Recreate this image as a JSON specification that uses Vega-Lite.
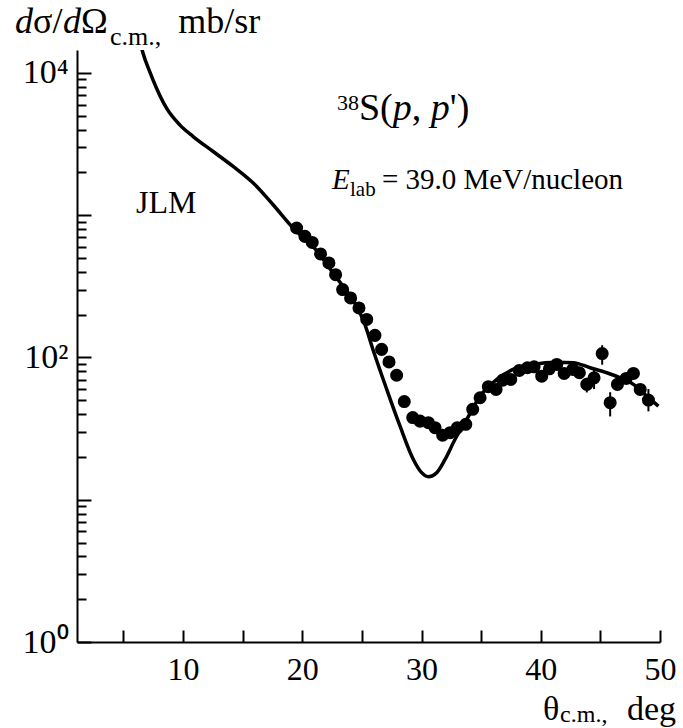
{
  "$schema": "https://vega.github.io/schema/vega-lite/v6.json",
  "width": 583,
  "height": 592,
  "autosize": "none",
  "padding": {"left": 77, "top": 50, "right": 23, "bottom": 86},
  "background": "white",
  "config": {
    "view": {"stroke": null},
    "axis": {
      "grid": false,
      "domainColor": "black",
      "domainWidth": 2,
      "tickColor": "black",
      "tickWidth": 2,
      "labelColor": "black",
      "labelFont": "Liberation Serif",
      "labelFontSize": 34,
      "labelOverlap": false,
      "labelFlush": false
    }
  },
  "datasets": {
    "curve": [
      {"theta": 6.4, "sigma": 16500},
      {"theta": 6.64, "sigma": 13750},
      {"theta": 7.2, "sigma": 10210},
      {"theta": 7.77, "sigma": 7810},
      {"theta": 8.61, "sigma": 5656},
      {"theta": 9.72, "sigma": 4316},
      {"theta": 10.84, "sigma": 3573},
      {"theta": 12.52, "sigma": 2804},
      {"theta": 14.2, "sigma": 2201},
      {"theta": 15.88, "sigma": 1683},
      {"theta": 17.55, "sigma": 1185},
      {"theta": 19.23, "sigma": 813},
      {"theta": 21.0, "sigma": 590},
      {"theta": 22.8, "sigma": 370},
      {"theta": 24.56, "sigma": 229},
      {"theta": 25.2, "sigma": 175},
      {"theta": 25.95, "sigma": 112},
      {"theta": 27.07, "sigma": 60},
      {"theta": 28.19, "sigma": 33},
      {"theta": 29.31, "sigma": 19.2},
      {"theta": 30.01, "sigma": 15.5},
      {"theta": 30.57, "sigma": 14.5},
      {"theta": 31.27, "sigma": 15.5},
      {"theta": 31.97, "sigma": 19.2},
      {"theta": 32.81, "sigma": 26.6},
      {"theta": 33.79, "sigma": 36.7},
      {"theta": 34.91, "sigma": 53.5},
      {"theta": 36.31, "sigma": 70.1},
      {"theta": 37.68, "sigma": 82.4},
      {"theta": 39.35, "sigma": 89.3},
      {"theta": 41.34, "sigma": 92.7},
      {"theta": 42.74, "sigma": 92.0},
      {"theta": 44.14, "sigma": 84.7},
      {"theta": 45.54, "sigma": 78.1},
      {"theta": 46.66, "sigma": 72.0},
      {"theta": 47.77, "sigma": 64.7},
      {"theta": 48.9, "sigma": 53.5},
      {"theta": 49.87, "sigma": 45.5}
    ],
    "points": [
      {"theta": 19.52, "sigma": 813, "lo": 765, "hi": 865},
      {"theta": 20.22, "sigma": 710, "lo": 668, "hi": 755},
      {"theta": 20.83, "sigma": 644, "lo": 605, "hi": 685},
      {"theta": 21.53, "sigma": 534, "lo": 502, "hi": 568},
      {"theta": 22.23, "sigma": 462, "lo": 434, "hi": 491},
      {"theta": 22.79, "sigma": 382, "lo": 359, "hi": 406},
      {"theta": 23.38, "sigma": 300, "lo": 282, "hi": 319},
      {"theta": 24.05, "sigma": 262, "lo": 246, "hi": 279},
      {"theta": 24.75, "sigma": 223, "lo": 210, "hi": 237},
      {"theta": 25.4, "sigma": 185, "lo": 174, "hi": 197},
      {"theta": 26.09, "sigma": 143, "lo": 134, "hi": 152},
      {"theta": 26.65, "sigma": 114, "lo": 107, "hi": 121},
      {"theta": 27.27, "sigma": 93, "lo": 87, "hi": 99},
      {"theta": 27.91, "sigma": 75, "lo": 70, "hi": 80},
      {"theta": 28.55, "sigma": 49, "lo": 46, "hi": 52},
      {"theta": 29.26, "sigma": 37.8, "lo": 35.5, "hi": 40.2},
      {"theta": 29.87, "sigma": 35.7, "lo": 33.6, "hi": 38},
      {"theta": 30.57, "sigma": 34.8, "lo": 32.7, "hi": 37},
      {"theta": 31.13, "sigma": 32.1, "lo": 30.2, "hi": 34.1},
      {"theta": 31.77, "sigma": 28.4, "lo": 26.7, "hi": 30.2},
      {"theta": 32.39, "sigma": 29.6, "lo": 27.8, "hi": 31.5},
      {"theta": 33.0, "sigma": 32.1, "lo": 30.2, "hi": 34.1},
      {"theta": 33.71, "sigma": 33.9, "lo": 31.9, "hi": 36},
      {"theta": 34.29, "sigma": 43.2, "lo": 40.6, "hi": 45.9},
      {"theta": 34.91, "sigma": 52.1, "lo": 49, "hi": 55.4},
      {"theta": 35.6, "sigma": 62.3, "lo": 58.6, "hi": 66.2},
      {"theta": 36.25, "sigma": 59.6, "lo": 56, "hi": 63.4},
      {"theta": 36.81, "sigma": 69.3, "lo": 65.1, "hi": 73.7},
      {"theta": 37.48, "sigma": 70.1, "lo": 65.9, "hi": 74.5},
      {"theta": 38.2, "sigma": 81.1, "lo": 76.2, "hi": 86.2},
      {"theta": 38.88, "sigma": 84.7, "lo": 79.6, "hi": 90},
      {"theta": 39.44, "sigma": 86.0, "lo": 80.8, "hi": 91.4},
      {"theta": 40.08, "sigma": 73.9, "lo": 69.5, "hi": 78.6},
      {"theta": 40.72, "sigma": 83.3, "lo": 78.3, "hi": 88.5},
      {"theta": 41.34, "sigma": 89.3, "lo": 83.9, "hi": 94.9},
      {"theta": 41.96, "sigma": 77.2, "lo": 72.6, "hi": 82.1},
      {"theta": 42.69, "sigma": 82.4, "lo": 77.5, "hi": 87.6},
      {"theta": 43.24, "sigma": 78.1, "lo": 73.4, "hi": 83},
      {"theta": 43.86, "sigma": 64.7, "lo": 56.8, "hi": 72},
      {"theta": 44.47, "sigma": 72.0, "lo": 60, "hi": 82},
      {"theta": 45.15, "sigma": 106.6, "lo": 89, "hi": 122},
      {"theta": 45.82, "sigma": 48.1, "lo": 38.5, "hi": 57},
      {"theta": 46.43, "sigma": 64.7, "lo": 60.8, "hi": 68.8},
      {"theta": 47.16, "sigma": 71.2, "lo": 66.9, "hi": 75.7},
      {"theta": 47.77, "sigma": 77.2, "lo": 72.6, "hi": 82.1},
      {"theta": 48.34, "sigma": 59.6, "lo": 54, "hi": 65},
      {"theta": 49.03, "sigma": 50.2, "lo": 41.8, "hi": 60}
    ],
    "notes": [
      {"x": -4.1, "y": 19090, "t": "d", "g": "titleItalic"},
      {"x": -2.59, "y": 19090, "t": "σ/", "g": "title"},
      {"x": -0.07, "y": 19090, "t": "d", "g": "titleItalic"},
      {"x": 1.44, "y": 19090, "t": "Ω", "g": "title"},
      {"x": 3.87, "y": 15720, "t": "c.m.,", "g": "titleSub"},
      {"x": 9.6, "y": 19090, "t": "mb/sr", "g": "title"},
      {"x": 40.19, "y": 0.2829, "t": "θ", "g": "xTitle"},
      {"x": 41.62, "y": 0.274, "t": "c.m.,", "g": "xTitleSub"},
      {"x": 47.23, "y": 0.2829, "t": "deg", "g": "xTitle"},
      {"x": 22.91, "y": 5490, "t": "38", "g": "reactionSup"},
      {"x": 24.75, "y": 4670, "t": "S(", "g": "reaction"},
      {"x": 27.59, "y": 4670, "t": "p", "g": "reactionItalic"},
      {"x": 29.18, "y": 4670, "t": ",", "g": "reaction"},
      {"x": 30.78, "y": 4670, "t": "p", "g": "reactionItalic"},
      {"x": 32.37, "y": 4670, "t": "')", "g": "reaction"},
      {"x": 22.49, "y": 1529, "t": "E", "g": "energyItalic"},
      {"x": 24.0, "y": 1365, "t": "lab", "g": "energySub"},
      {"x": 26.68, "y": 1529, "t": "= 39.0 MeV/nucleon", "g": "energy"},
      {"x": 6.05, "y": 1037, "t": "JLM", "g": "model"}
    ]
  },
  "layer": [
    {
      "data": {"name": "curve"},
      "mark": {"type": "line", "clip": true, "interpolate": "monotone", "color": "black", "strokeWidth": 3.5},
      "encoding": {
        "x": {
          "field": "theta", "type": "quantitative",
          "scale": {"domain": [1.1, 50], "nice": false, "zero": false},
          "axis": {
            "orient": "bottom",
            "values": [5, 10, 15, 20, 25, 30, 35, 40, 45, 50],
            "labelExpr": "datum.value % 10 == 0 ? datum.label : ''",
            "tickSize": -12,
            "labelPadding": 24,
            "labelBaseline": "top",
            "labelFont": "Liberation Serif",
            "labelFontSize": 32,
            "title": null
          }
        },
        "y": {
          "field": "sigma", "type": "quantitative",
          "scale": {"type": "log", "domain": [1, 14500], "nice": false},
          "axis": {
            "orient": "left",
            "values": [1, 10, 100, 1000, 10000],
            "tickSize": -14,
            "labelPadding": 23,
            "labelFont": "Liberation Serif",
            "labelFontSize": 34,
            "labelExpr": "datum.value == 10000 ? '10⁴' : datum.value == 100 ? '10²' : datum.value == 1 ? '10⁰' : ''",
            "title": null
          }
        }
      }
    },
    {
      "data": {"name": "points"},
      "mark": {"type": "rule", "color": "black", "strokeWidth": 2},
      "encoding": {
        "x": {"field": "theta", "type": "quantitative", "scale": {"domain": [1.1, 50], "nice": false, "zero": false}},
        "y": {
          "field": "lo", "type": "quantitative",
          "scale": {"type": "log", "domain": [1, 14500], "nice": false},
          "axis": {
            "orient": "left",
            "values": [2, 3, 4, 5, 6, 7, 8, 9, 20, 30, 40, 50, 60, 70, 80, 90, 200, 300, 400, 500, 600, 700, 800, 900, 2000, 3000, 4000, 5000, 6000, 7000, 8000, 9000],
            "tickSize": -9,
            "labels": false,
            "domain": false,
            "title": null
          }
        },
        "y2": {"field": "hi"}
      }
    },
    {
      "data": {"name": "points"},
      "mark": {"type": "circle", "size": 170, "opacity": 1, "color": "black"},
      "encoding": {
        "x": {"field": "theta", "type": "quantitative", "scale": {"domain": [1.1, 50], "nice": false, "zero": false}},
        "y": {"field": "sigma", "type": "quantitative", "scale": {"type": "log", "domain": [1, 14500], "nice": false}, "axis": null}
      }
    },
    {
      "data": {"name": "notes"},
      "layer": [
        {"transform": [{"filter": "datum.g == 'title'"}], "mark": {"type": "text", "font": "Liberation Serif", "fontSize": 36, "align": "left", "baseline": "alphabetic", "color": "black"}},
        {"transform": [{"filter": "datum.g == 'titleItalic'"}], "mark": {"type": "text", "font": "Liberation Serif", "fontSize": 36, "fontStyle": "italic", "align": "left", "baseline": "alphabetic", "color": "black"}},
        {"transform": [{"filter": "datum.g == 'titleSub'"}], "mark": {"type": "text", "font": "Liberation Serif", "fontSize": 26, "align": "left", "baseline": "alphabetic", "color": "black"}},
        {"transform": [{"filter": "datum.g == 'xTitle'"}], "mark": {"type": "text", "font": "Liberation Serif", "fontSize": 34, "align": "left", "baseline": "alphabetic", "color": "black"}},
        {"transform": [{"filter": "datum.g == 'xTitleSub'"}], "mark": {"type": "text", "font": "Liberation Serif", "fontSize": 24, "align": "left", "baseline": "alphabetic", "color": "black"}},
        {"transform": [{"filter": "datum.g == 'reaction'"}], "mark": {"type": "text", "font": "Liberation Serif", "fontSize": 38, "align": "left", "baseline": "alphabetic", "color": "black"}},
        {"transform": [{"filter": "datum.g == 'reactionItalic'"}], "mark": {"type": "text", "font": "Liberation Serif", "fontSize": 38, "fontStyle": "italic", "align": "left", "baseline": "alphabetic", "color": "black"}},
        {"transform": [{"filter": "datum.g == 'reactionSup'"}], "mark": {"type": "text", "font": "Liberation Serif", "fontSize": 22, "align": "left", "baseline": "alphabetic", "color": "black"}},
        {"transform": [{"filter": "datum.g == 'energy'"}], "mark": {"type": "text", "font": "Liberation Serif", "fontSize": 29, "align": "left", "baseline": "alphabetic", "color": "black"}},
        {"transform": [{"filter": "datum.g == 'energyItalic'"}], "mark": {"type": "text", "font": "Liberation Serif", "fontSize": 29, "fontStyle": "italic", "align": "left", "baseline": "alphabetic", "color": "black"}},
        {"transform": [{"filter": "datum.g == 'energySub'"}], "mark": {"type": "text", "font": "Liberation Serif", "fontSize": 21, "align": "left", "baseline": "alphabetic", "color": "black"}},
        {"transform": [{"filter": "datum.g == 'model'"}], "mark": {"type": "text", "font": "Liberation Serif", "fontSize": 32, "align": "left", "baseline": "alphabetic", "color": "black"}}
      ],
      "encoding": {
        "x": {"field": "x", "type": "quantitative", "scale": {"domain": [1.1, 50], "nice": false, "zero": false}},
        "y": {"field": "y", "type": "quantitative", "scale": {"type": "log", "domain": [1, 14500], "nice": false}, "axis": null},
        "text": {"field": "t", "type": "nominal"}
      }
    }
  ],
  "resolve": {"axis": {"y": "independent"}}
}
